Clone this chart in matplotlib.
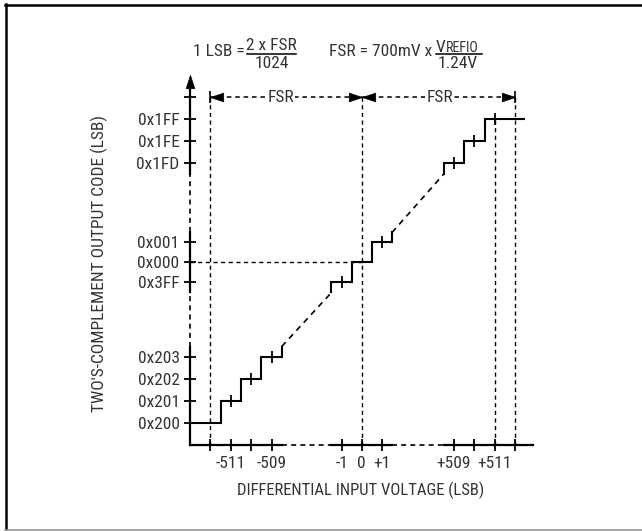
import numpy as np
import matplotlib
matplotlib.use("Agg")
import matplotlib.pyplot as plt
from matplotlib.lines import Line2D
from matplotlib import font_manager

names = {f.name for f in font_manager.fontManager.ttflist}
cands = [n for n in ['Liberation Sans Narrow', 'Roboto Condensed', 'Open Sans Condensed',
                     'Liberation Sans', 'DejaVu Sans'] if n in names]
plt.rcParams['font.family'] = cands + ['DejaVu Sans']
NARROW = cands[0] in ('Liberation Sans Narrow', 'Roboto Condensed', 'Open Sans Condensed')

# ---------------- data ----------------
x_tick_values = [-512, -511, -510, -509, -1, 0, 1, 509, 510, 511, 512]
x_tick_labels = ['', '-511', '', '-509', '-1', '0', '+1', '+509', '', '+511', '']
y_tick_values = [-512, -511, -510, -509, -1, 0, 1, 509, 510, 511, 512]
y_tick_labels = ['0x200', '0x201', '0x202', '0x203', '0x3FF', '0x000', '0x001',
                 '0x1FD', '0x1FE', '0x1FF', '']
lower_codes = [-512, -511, -510, -509]
middle_codes = [-1, 0, 1]
upper_codes = [509, 510, 511]
step_marks = [-511, -510, -509, -1, 1, 509, 510, 511]
fsr_spans = [(-512, 0), (0, 512)]
fsr_label = 'FSR'
full_scale_lines = [-512, 0, 512]
last_code_line = 511
x_min, x_max = -513, 513
y_min, y_max = -513, 513
last_step_end = 512.45
x_label = 'DIFFERENTIAL INPUT VOLTAGE (LSB)'
y_label = "TWO'S-COMPLEMENT OUTPUT CODE (LSB)"

# ---------------- layout (pixels) ----------------
W, H = 642, 531
XK = [-513, -508.5, -1.5, 1.5, 508.5, 513]
XPX = np.array([190, 281.7, 331.5, 392, 443.8, 535.6])
YK = [-513, -508.5, -1.5, 1.5, 508.5, 513]
YPX = np.array([445, 346.5, 292.5, 232.5, 174, 75.5])
YUP = H - YPX


def xf(v):
    return np.interp(v, XK, XPX)


def xi(p):
    return np.interp(p, XPX, XK)


def yf(v):
    return np.interp(v, YK, YUP)


def yi(p):
    return np.interp(p, YUP, YK)


fig = plt.figure(figsize=(W / 100, H / 100), dpi=100)
ax = fig.add_axes([XPX[0] / W, YUP[0] / H, (XPX[-1] - XPX[0]) / W, (YUP[-1] - YUP[0]) / H])
ax.set_xscale('function', functions=(xf, xi))
ax.set_yscale('function', functions=(yf, yi))
ax.set_xlim(x_min, x_max)
ax.set_ylim(y_min, y_max)
for s in ax.spines.values():
    s.set_visible(False)
ax.patch.set_visible(False)

FS = 12.5 if NARROW else 10.6
XLFS = 12 if NARROW else 11
YLFS = 12.5 if NARROW else 11.2
TC = '#333333'
ax.set_xticks(x_tick_values)
ax.set_xticklabels(x_tick_labels, fontsize=FS, color=TC)
ax.set_yticks(y_tick_values)
ax.set_yticklabels(y_tick_labels, fontsize=FS, color=TC)
ax.minorticks_off()
ax.tick_params(axis='both', direction='inout', length=9, width=1.3, color='black')
ax.tick_params(axis='x', pad=3.5)
ax.tick_params(axis='y', pad=3)

K = dict(color='black', clip_on=False)
DASH = (0, (3, 2.5))

# axes lines: solid where the scale is linear, dashed in the compressed gaps
solid_x = [(XK[0], XK[1]), (XK[2], XK[3]), (XK[4], 512.85)]
gap_x = [(XK[1], XK[2]), (XK[3], XK[4])]
for a, b in solid_x:
    ax.plot([a, b], [y_min, y_min], lw=1.6, **K)
for a, b in gap_x:
    ax.plot([a, b], [y_min, y_min], lw=1.2, ls=DASH, **K)
solid_y = [(YK[0], YK[1]), (YK[2], YK[3]), (YK[4], 512.55)]
gap_y = [(YK[1], YK[2]), (YK[3], YK[4])]
for a, b in solid_y:
    ax.plot([x_min, x_min], [a, b], lw=1.6, **K)
for a, b in gap_y:
    ax.plot([x_min, x_min], [a, b], lw=1.2, ls=DASH, **K)
# arrow head on y axis
up_head = [(0, 0), (-0.33, -1), (0.33, -1), (0, 0)]
ax.plot([x_min], [y_max], marker=up_head, ms=19, mfc='black', mec='black', mew=0.5, **K)

# guide lines
for xv in full_scale_lines:
    ax.plot([xv, xv], [y_min, fsr_spans[1][1]], lw=1.0, ls=DASH, **K)
ax.plot([last_code_line, last_code_line], [y_min, last_code_line], lw=1.0, ls=DASH, **K)
ax.plot([x_min, 0], [0, 0], lw=1.0, ls=DASH, **K)

# FSR arrows
left_head = [(0, 0), (1, 0.33), (1, -0.33), (0, 0)]
right_head = [(0, 0), (-1, 0.33), (-1, -0.33), (0, 0)]
for a, b in fsr_spans:
    ax.plot([a, b], [512, 512], lw=1.1, ls=DASH, **K)
    ax.plot([a], [512], marker=left_head, ms=19, mfc='black', mec='black', mew=0.5, **K)
    ax.plot([b], [512], marker=right_head, ms=19, mfc='black', mec='black', mew=0.5, **K)
    mid_px = (xf(a) + xf(b)) / 2 - (5 if a < 0 else -1)
    ax.text(xi(mid_px), 512, fsr_label, ha='center', va='center', fontsize=FS,
            color=TC, bbox=dict(facecolor='white', edgecolor='none', pad=0.8))
ax.plot([fsr_spans[0][0], fsr_spans[1][1]], [512, 512], ls='none', marker='|', ms=8, mew=1.2, **K)


# transfer function staircase
def steps(codes, start=None, end=None, lead=True, trail=True):
    xs, ys = [], []
    if lead:
        xs.append(codes[0] - 0.5)
        ys.append(codes[0] - 0.5)
    for i, c in enumerate(codes):
        left = start if (i == 0 and start is not None) else c - 0.5
        right = end if (i == len(codes) - 1 and end is not None) else c + 0.5
        xs += [left, right]
        ys += [c, c]
    if trail:
        xs.append(codes[-1] + 0.5)
        ys.append(codes[-1] + 0.5)
    return xs, ys


groups = [steps(lower_codes, start=x_min, lead=False),
          steps(middle_codes),
          steps(upper_codes, end=last_step_end, trail=False)]
for xs, ys in groups:
    ax.plot(xs, ys, lw=1.5, solid_joinstyle='miter', **K)
for (xa, ya), (xb, yb) in zip(groups[:-1], groups[1:]):
    ax.plot([xa[-1], xb[0]], [ya[-1], yb[0]], lw=1.2, ls=(0, (3.5, 3)), **K)
ax.plot(step_marks, step_marks, ls='none', marker='|', ms=8.5, mew=1.3, **K)

# axis labels
ax.set_xlabel(x_label, fontsize=XLFS, color=TC)
ax.xaxis.set_label_coords((361 - XPX[0]) / (XPX[-1] - XPX[0]), (YPX[0] - 482) / (YPX[0] - YPX[-1]))
ax.set_ylabel(y_label, fontsize=YLFS, color=TC)
ax.yaxis.set_label_coords((108 - XPX[0]) / (XPX[-1] - XPX[0]), (YPX[0] - 263) / (YPX[0] - YPX[-1]))


# formulas on top
def ftext(x, y, s, **kw):
    kw.setdefault('fontsize', FS)
    kw.setdefault('color', TC)
    return fig.text(x / W, 1 - y / H, s, **kw)


def fbar(x0, x1, y):
    fig.add_artist(Line2D([x0 / W, x1 / W], [1 - y / H, 1 - y / H], color='black', lw=1.1))


ftext(245, 52, '1 LSB =', ha='right', va='center')
ftext(271, 46, '2 x FSR', ha='center', va='center')
fbar(247, 296, 53.5)
ftext(272, 63.5, '1024', ha='center', va='center')
ftext(432, 52, 'FSR = 700mV x', ha='right', va='center')
ftext(436, 51.5, 'V', ha='left', va='baseline')
ftext(445.5, 51.5, 'REFIO', ha='left', va='baseline', fontsize=FS * 0.8)
fbar(436, 482, 53.5)
ftext(458, 63.5, '1.24V', ha='center', va='center')

# frame
fig.add_artist(Line2D([5 / W, 1], [1 - 4.5 / H, 1 - 4.5 / H], color='black', lw=1.8))
fig.add_artist(Line2D([6 / W, 6 / W], [0, 1 - 4 / H], color='black', lw=1.8))
fig.add_artist(Line2D([5 / W, 1], [1 - 529.5 / H, 1 - 529.5 / H], color='#999999', lw=1.2))

fig.savefig('out.png', dpi=100)
